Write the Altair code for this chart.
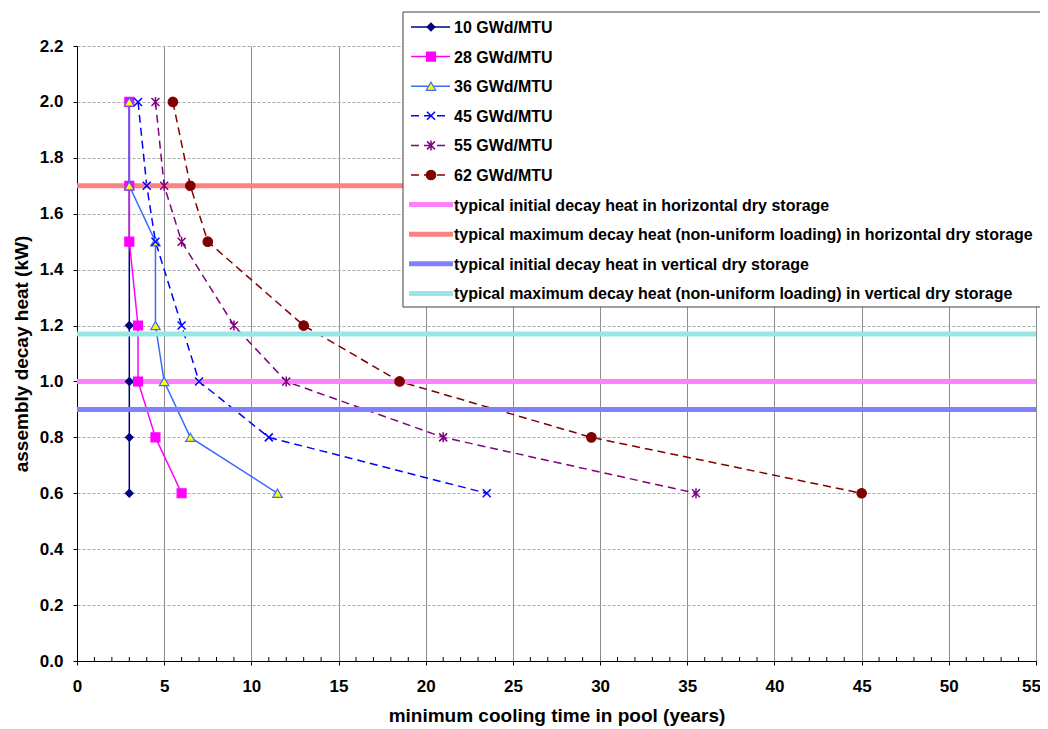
import altair as alt
import pandas as pd

# ---------------- data ----------------
HEAT = [2.0, 1.7, 1.5, 1.2, 1.0, 0.8, 0.6]
SERIES_NAMES = ["10 GWd/MTU", "28 GWd/MTU", "36 GWd/MTU",
                "45 GWd/MTU", "55 GWd/MTU", "62 GWd/MTU"]
T_10 = [3, 3, 3, 3, 3, 3, 3]
T_28 = [3, 3, 3, 3.5, 3.5, 4.5, 6]
T_36 = [3, 3, 4.5, 4.5, 5, 6.5, 11.5]
T_45 = [3.5, 4, 4.5, 6, 7, 11, 23.5]
T_55 = [4.5, 5, 6, 9, 12, 21, 35.5]
T_62 = [5.5, 6.5, 7.5, 13, 18.5, 29.5, 45]
SERIES_TIMES = [T_10, T_28, T_36, T_45, T_55, T_62]

REF_NAMES = [
    "typical initial decay heat in horizontal dry storage",
    "typical maximum decay heat (non-uniform loading) in horizontal dry storage",
    "typical initial decay heat in vertical dry storage",
    "typical maximum decay heat (non-uniform loading) in vertical dry storage",
]
REF_VALUES = [1.0, 1.7, 0.9, 1.17]
REF_X_START = [0, 0, 0, 0]
REF_X_END = [55, 55, 55, 55]

X_TICKS = list(range(0, 56, 5))
X_MINOR = [i for i in range(1, 55) if i % 5 != 0]
Y_TICKS = [round(i * 0.2, 1) for i in range(12)]

X_TITLE = "minimum cooling time in pool (years)"
Y_TITLE = "assembly decay heat (kW)"

# ---------------- styles ----------------
FONT = "Liberation Sans"
W, H = 959, 615
LABEL_SIZE = 17
TITLE_SIZE = 19
LEGEND_SIZE = 16
X_PATH = "M-1,-1L1,1M-1,1L1,-1"
STAR_PATH = "M-1,-1L1,1M-1,1L1,-1M0,-1.25L0,1.25"

SERIES_STYLE = [
    dict(color="#000080", dash=None, shape="diamond", size=60, filled=True, fill="#000080", stroke="#000080"),
    dict(color="#FF00FF", dash=None, shape="square", size=80, filled=True, fill="#FF00FF", stroke="#FF00FF"),
    dict(color="#3D6BFF", dash=None, shape="triangle-up", size=90, filled=True, fill="#FFFF00", stroke="#3D6BFF"),
    dict(color="#0000FF", dash=[8, 5], shape=X_PATH, size=64, filled=False, fill=None, stroke="#0000FF"),
    dict(color="#800080", dash=[8, 5], shape=STAR_PATH, size=64, filled=False, fill=None, stroke="#800080"),
    dict(color="#800000", dash=[8, 5], shape="circle", size=90, filled=True, fill="#800000", stroke="#800000"),
]
REF_COLORS = ["#FF80FF", "#FF8080", "#8080FF", "#99E6E6"]

x_enc = alt.X(
    "t:Q",
    scale=alt.Scale(domain=[0, 55], nice=False, zero=True),
    axis=alt.Axis(values=X_TICKS, format="d", title=X_TITLE, grid=True, labelFlush=False,
                  labelOffset={"condition": {"test": "datum.value == 55", "value": -5}, "value": 0},
                  gridColor="#8C8C8C", gridWidth=1, tickSize=4, tickColor="black",
                  domainColor="black", labelPadding=13, titlePadding=12,
                  labelFontSize=LABEL_SIZE, labelFont=FONT, labelFontWeight="bold",
                  titleFontSize=TITLE_SIZE, titleFont=FONT, titleFontWeight="bold",
                  labelColor="black", titleColor="black"),
)
y_enc = alt.Y(
    "h:Q",
    scale=alt.Scale(domain=[0, 2.2], nice=False, zero=True),
    axis=alt.Axis(values=Y_TICKS, format=".1f", title=Y_TITLE, grid=True, labelFlush=False,
                  gridColor="#A8A8A8", gridDash=[3, 2], gridWidth=1, tickSize=4,
                  tickColor="black", domainColor="black", labelPadding=10,
                  titlePadding=8, labelFontSize=LABEL_SIZE, labelFont=FONT,
                  labelFontWeight="bold", titleFontSize=TITLE_SIZE, titleFont=FONT,
                  titleFontWeight="bold", labelColor="black", titleColor="black"),
)

series_frames = []
for name, times in zip(SERIES_NAMES, SERIES_TIMES):
    series_frames.append(pd.DataFrame({"t": times, "h": HEAT, "idx": list(range(len(HEAT))), "series": name}))

line_layers = []
point_layers = []
for df, st in zip(series_frames, SERIES_STYLE):
    kw = dict(color=st["color"], strokeWidth=1.5)
    if st["dash"]:
        kw["strokeDash"] = st["dash"]
    line_layers.append(alt.Chart(df).mark_line(**kw).encode(x=x_enc, y=y_enc, order=alt.Order("idx:Q")))
    pkw = dict(shape=st["shape"], size=st["size"], filled=st["filled"], stroke=st["stroke"],
               strokeWidth=1.5 if not st["filled"] else 1.2, opacity=1)
    if st["fill"]:
        pkw["fill"] = st["fill"]
    point_layers.append(alt.Chart(df).mark_point(**pkw).encode(x=x_enc, y=y_enc))

ref_df = pd.DataFrame({"name": REF_NAMES, "h": REF_VALUES, "t": REF_X_START, "t2": REF_X_END})
ref_layer = alt.Chart(ref_df).mark_rule(strokeWidth=5).encode(
    x=x_enc, x2="t2:Q", y=y_enc,
    color=alt.Color("name:N", scale=alt.Scale(domain=REF_NAMES, range=REF_COLORS), legend=None),
)

minor_df = pd.DataFrame({"t": X_MINOR})
minor_layer = alt.Chart(minor_df).mark_rule(color="black", strokeWidth=1).encode(
    x=x_enc, y=alt.value(H - 4), y2=alt.value(H))

# ---------------- legend (drawn in pixel space) ----------------
one = pd.DataFrame({"a": [0]})
LEG_LEFT, LEG_TOP, LEG_BOTTOM = 326, -34, 261
ROW0, ROW_STEP = -19, 29.6
legend_layers = [
    alt.Chart(one).mark_rect(fill="white", stroke="#404040", strokeWidth=1).encode(
        x=alt.value(LEG_LEFT), x2=alt.value(LEG_LEFT + 800), y=alt.value(LEG_TOP), y2=alt.value(LEG_BOTTOM))
]
for i, (name, st) in enumerate(zip(SERIES_NAMES, SERIES_STYLE)):
    ry = ROW0 + i * ROW_STEP
    kw = dict(color=st["color"], strokeWidth=1.5)
    if st["dash"]:
        kw["strokeDash"] = st["dash"]
    legend_layers.append(alt.Chart(one).mark_rule(**kw).encode(
        x=alt.value(334), x2=alt.value(373), y=alt.value(ry)))
    pkw = dict(shape=st["shape"], size=st["size"], filled=st["filled"], stroke=st["stroke"],
               strokeWidth=1.5 if not st["filled"] else 1.2, opacity=1)
    if st["fill"]:
        pkw["fill"] = st["fill"]
    legend_layers.append(alt.Chart(one).mark_point(**pkw).encode(x=alt.value(354), y=alt.value(ry)))
    legend_layers.append(alt.Chart(one).mark_text(align="left", baseline="middle", font=FONT,
                                                  fontWeight="bold", fontSize=LEGEND_SIZE, color="black").encode(
        x=alt.value(377), y=alt.value(ry + 1), text=alt.value(name)))
for j, (name, col) in enumerate(zip(REF_NAMES, REF_COLORS)):
    ry = ROW0 + (6 + j) * ROW_STEP
    legend_layers.append(alt.Chart(one).mark_rule(color=col, strokeWidth=5).encode(
        x=alt.value(332), x2=alt.value(376), y=alt.value(ry)))
    legend_layers.append(alt.Chart(one).mark_text(align="left", baseline="middle", font=FONT,
                                                  fontWeight="bold", fontSize=LEGEND_SIZE, color="black").encode(
        x=alt.value(377), y=alt.value(ry + 1), text=alt.value(name)))

chart = alt.layer(
    minor_layer, *line_layers, ref_layer, *point_layers, *legend_layers
).properties(
    width=W, height=H,
    autosize=alt.AutoSizeParams(type="none"),
    padding={"left": 69, "top": 38, "right": 4, "bottom": 66},
    background="white",
).configure_view(stroke=None)

chart.save("out.html", embed_options={"renderer": "svg", "actions": False})
